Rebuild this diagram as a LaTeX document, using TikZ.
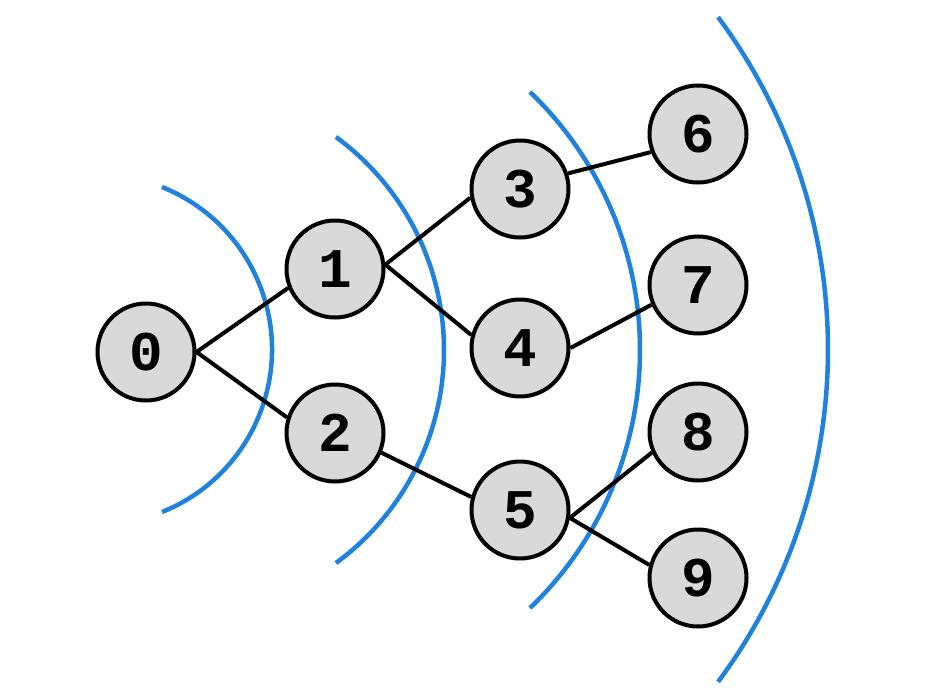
\documentclass[tikz,border=0pt]{standalone}
\usepackage{fontspec}
\setmonofont{Liberation Mono}
\definecolor{arcblue}{RGB}{33,130,222}
\definecolor{nodegray}{RGB}{217,217,217}
\tikzset{
  vert/.style={circle, draw=black, fill=nodegray, line width=4pt, minimum size=97pt, inner sep=0pt,
    font=\fontsize{56}{56}\selectfont\ttfamily\bfseries},
  edge/.style={line width=4pt, black},
  wave/.style={line width=4.5pt, arcblue}
}
\begin{document}
\begin{tikzpicture}[x=1pt,y=-1pt]
\useasboundingbox (0,0) rectangle (936,698);
% arcs
\draw[wave] (97,349.5) ++(68.2:175) arc[start angle=68.2, end angle=-68.2, radius=175];
\draw[wave] (180,350) ++(53.8:264) arc[start angle=53.8, end angle=-53.8, radius=264];
\draw[wave] (282.4,350) ++(46.2:357.6) arc[start angle=46.2, end angle=-46.2, radius=357.6];
\draw[wave] (270.5,349.5) ++(36.6:557.5) arc[start angle=36.6, end angle=-36.6, radius=557.5];
% edges (drawn below nodes)
\node[vert] (n0) at (146,352) {0};
\node[vert] (n1) at (335,269) {1};
\node[vert] (n2) at (335,433) {2};
\node[vert] (n3) at (520,189) {3};
\node[vert] (n4) at (520,348) {4};
\node[vert] (n5) at (520,510) {5};
\node[vert] (n6) at (698,134) {6};
\node[vert] (n7) at (698,285) {7};
\node[vert] (n8) at (698,432) {8};
\node[vert] (n9) at (698,578) {9};
\draw[edge] (n0.east) -- (n1.202);
\draw[edge] (n0.east) -- (n2.162);
\draw[edge] (n1.5) -- (n3.190);
\draw[edge] (n1.5) -- (n4.165);
\draw[edge] (n2.337) -- (n5.165);
\draw[edge] (n3.18) -- (n6.201);
\draw[edge] (n4.east) -- (n7.203);
\draw[edge] (n5.-9) -- (n8.204);
\draw[edge] (n5.-9) -- (n9.165);
\end{tikzpicture}
\end{document}
